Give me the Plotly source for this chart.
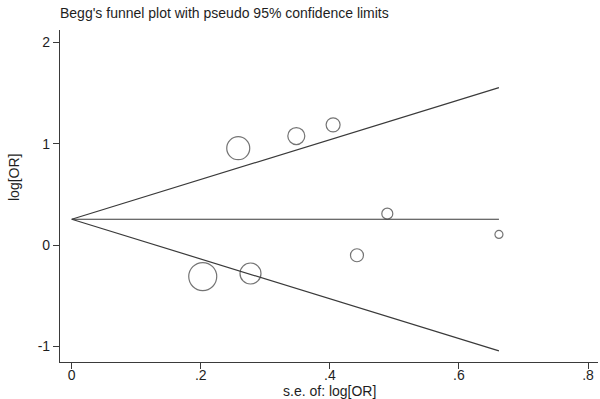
import plotly.graph_objects as go

# Study data
se = [0.203, 0.258, 0.277, 0.348, 0.405, 0.442, 0.489, 0.662]
log_or = [-0.31, 0.955, -0.28, 1.075, 1.185, -0.10, 0.31, 0.105]
marker_d = [28, 23, 21, 17, 14, 13, 11, 8]

# Pooled estimate and funnel limits
theta = 0.255
se_max = 0.662
line_x = [0, se_max]
upper_y = [theta, theta + 1.96 * se_max]
lower_y = [theta, theta - 1.96 * se_max]
center_y = [theta, theta]

x_tickvals = [0, 0.2, 0.4, 0.6, 0.8]
x_ticktext = ["0", ".2", ".4", ".6", ".8"]
y_tickvals = [-1, 0, 1, 2]
y_ticktext = ["-1", "0", "1", "2"]

LC = "#3a3a3a"
TC = "#1e1e1e"
FONT = "Liberation Sans, Arial, sans-serif"

fig = go.Figure()
for yy in (upper_y, center_y, lower_y):
    fig.add_trace(go.Scatter(x=line_x, y=yy, mode="lines",
                             line=dict(color=LC, width=1.2), showlegend=False,
                             hoverinfo="skip"))
fig.add_trace(go.Scatter(x=se, y=log_or, mode="markers",
                         marker=dict(size=marker_d, color="rgba(0,0,0,0)",
                                     line=dict(color=LC, width=1.2)),
                         showlegend=False))

fig.update_layout(
    width=600, height=399,
    margin=dict(l=60, r=2, t=30, b=37),
    plot_bgcolor="white", paper_bgcolor="white",
    font=dict(family=FONT, size=14, color=TC),
    xaxis=dict(range=[-0.0182, 0.8155], tickvals=x_tickvals, ticktext=x_ticktext,
               showgrid=False, zeroline=False, showline=True, linecolor=LC,
               linewidth=1.2, ticks="outside", ticklen=6, tickcolor=LC,
               ticklabelstandoff=-6,
               tickfont=dict(size=14, color=TC)),
    yaxis=dict(range=[-1.152, 2.12], tickvals=y_tickvals, ticktext=y_ticktext,
               showgrid=False, zeroline=False, showline=True, linecolor=LC,
               linewidth=1.2, ticks="outside", ticklen=6, tickcolor=LC,
               tickfont=dict(size=14, color=TC)),
    annotations=[
        dict(text="Begg's funnel plot with pseudo 95% confidence limits",
             xref="paper", yref="paper", x=0, y=1, yshift=17, xshift=-2,
             xanchor="left", yanchor="middle", showarrow=False,
             font=dict(size=14, color=TC)),
        dict(text="s.e. of: log[OR]", xref="paper", yref="paper", x=0.5, y=0,
             yshift=-29, xanchor="center", yanchor="middle", showarrow=False,
             font=dict(size=14, color=TC)),
        dict(text="log[OR]", xref="paper", yref="paper", x=0, y=0.5,
             xshift=-46, yshift=18, textangle=-90, xanchor="center",
             yanchor="middle", showarrow=False, font=dict(size=14, color=TC)),
    ],
)

fig.write_html("out.html", config={"displayModeBar": False},
               post_script="document.body.style.margin='0';document.body.style.overflow='hidden';")
